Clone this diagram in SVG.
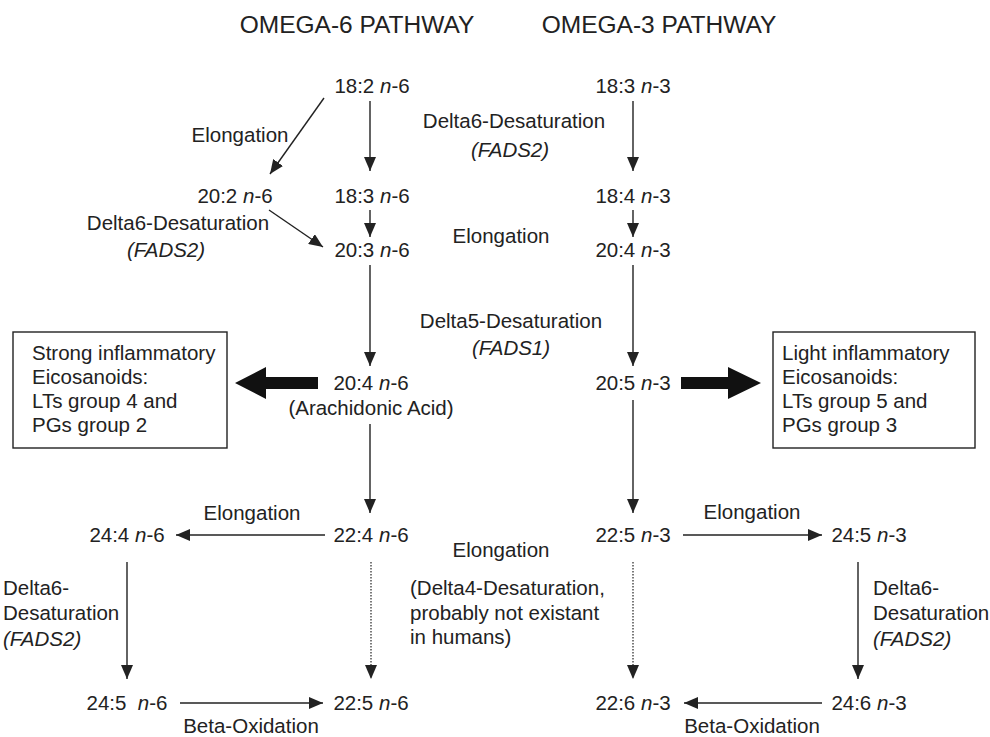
<svg xmlns="http://www.w3.org/2000/svg" width="990" height="737" viewBox="0 0 990 737">
<style>
  text { font-family: "Liberation Sans", Arial, sans-serif; font-size: 20.5px; fill: #222; }
  .title { font-size: 24.5px; }
  .c { text-anchor: middle; }
  .i { font-style: italic; }
  .ln { stroke: #222; stroke-width: 1.4; fill: none; }
  .dot { stroke: #222; stroke-width: 1.2; fill: none; stroke-dasharray: 1.5 1.5; }
  .box { fill: #fff; stroke: #222; stroke-width: 1.4; }
  .thick { fill: #111; }
</style>
<defs>
  <marker id="ah" viewBox="0 0 14 12" refX="14" refY="6" markerWidth="14" markerHeight="12" orient="auto" markerUnits="userSpaceOnUse">
    <path d="M0,0 L14,6 L0,12 z" fill="#222"/>
  </marker>
</defs>
<rect width="990" height="737" fill="#fff"/>

<g id="titles">
  <text class="title c" x="357" y="33">OMEGA-6 PATHWAY</text>
  <text class="title c" x="659" y="33">OMEGA-3 PATHWAY</text>
</g>

<g id="n_18_2_n6"><text class="c" x="372" y="93">18:2 <tspan class="i">n</tspan>-6</text></g>
<g id="n_18_3_n3"><text class="c" x="633" y="93">18:3 <tspan class="i">n</tspan>-3</text></g>
<g id="n_20_2_n6"><text class="c" x="235" y="203">20:2 <tspan class="i">n</tspan>-6</text></g>
<g id="n_18_3_n6"><text class="c" x="372" y="203">18:3 <tspan class="i">n</tspan>-6</text></g>
<g id="n_18_4_n3"><text class="c" x="633" y="203">18:4 <tspan class="i">n</tspan>-3</text></g>
<g id="n_20_3_n6"><text class="c" x="372" y="257">20:3 <tspan class="i">n</tspan>-6</text></g>
<g id="n_20_4_n3"><text class="c" x="633" y="257">20:4 <tspan class="i">n</tspan>-3</text></g>
<g id="n_20_4_n6">
  <text class="c" x="371" y="390">20:4 <tspan class="i">n</tspan>-6</text>
  <text class="c" x="371" y="415">(Arachidonic Acid)</text>
</g>
<g id="n_20_5_n3"><text class="c" x="633" y="390">20:5 <tspan class="i">n</tspan>-3</text></g>
<g id="n_24_4_n6"><text class="c" x="127" y="542">24:4 <tspan class="i">n</tspan>-6</text></g>
<g id="n_22_4_n6"><text class="c" x="371" y="542">22:4 <tspan class="i">n</tspan>-6</text></g>
<g id="n_22_5_n3"><text class="c" x="633" y="542">22:5 <tspan class="i">n</tspan>-3</text></g>
<g id="n_24_5_n3"><text class="c" x="869" y="542">24:5 <tspan class="i">n</tspan>-3</text></g>
<g id="n_24_5_n6"><text class="c" x="127" y="710" xml:space="preserve">24:5  <tspan class="i">n</tspan>-6</text></g>
<g id="n_22_5_n6"><text class="c" x="371" y="710">22:5 <tspan class="i">n</tspan>-6</text></g>
<g id="n_22_6_n3"><text class="c" x="633" y="710">22:6 <tspan class="i">n</tspan>-3</text></g>
<g id="n_24_6_n3"><text class="c" x="869" y="710">24:6 <tspan class="i">n</tspan>-3</text></g>

<g id="box_strong">
  <rect class="box" x="13" y="332" width="214" height="116"/>
  <text x="32" y="360">Strong inflammatory</text>
  <text x="32" y="384">Eicosanoids:</text>
  <text x="32" y="408">LTs group 4 and</text>
  <text x="32" y="432">PGs group 2</text>
</g>
<g id="box_light">
  <rect class="box" x="773" y="332" width="202" height="116"/>
  <text x="782" y="360">Light inflammatory</text>
  <text x="782" y="384">Eicosanoids:</text>
  <text x="782" y="408">LTs group 5 and</text>
  <text x="782" y="432">PGs group 3</text>
</g>

<g id="labels">
  <text class="c" x="240" y="142">Elongation</text>
  <text class="c" x="514" y="128">Delta6-Desaturation</text>
  <text class="c i" x="510" y="157">(FADS2)</text>
  <text class="c" x="178" y="230">Delta6-Desaturation</text>
  <text class="c i" x="166" y="257">(FADS2)</text>
  <text class="c" x="501" y="243">Elongation</text>
  <text class="c" x="511" y="328">Delta5-Desaturation</text>
  <text class="c i" x="511" y="355">(FADS1)</text>
  <text class="c" x="501" y="557">Elongation</text>
  <text class="c" x="252" y="520">Elongation</text>
  <text class="c" x="752" y="519">Elongation</text>
  <text x="3" y="595">Delta6-</text>
  <text x="3" y="620">Desaturation</text>
  <text class="i" x="3" y="646">(FADS2)</text>
  <text x="410" y="595">(Delta4-Desaturation,</text>
  <text x="410" y="620">probably not existant</text>
  <text x="410" y="644">in humans)</text>
  <text x="873" y="595">Delta6-</text>
  <text x="873" y="620">Desaturation</text>
  <text class="i" x="873" y="646">(FADS2)</text>
  <text class="c" x="251" y="733">Beta-Oxidation</text>
  <text class="c" x="752" y="733">Beta-Oxidation</text>
</g>

<g id="connectors">
  <line class="ln" x1="370" y1="101" x2="370" y2="171" marker-end="url(#ah)"/>
  <line class="ln" x1="633" y1="101" x2="633" y2="171" marker-end="url(#ah)"/>
  <line class="ln" x1="324" y1="98" x2="270" y2="174" marker-end="url(#ah)"/>
  <line class="ln" x1="370" y1="210" x2="370" y2="237" marker-end="url(#ah)"/>
  <line class="ln" x1="633" y1="210" x2="633" y2="237" marker-end="url(#ah)"/>
  <line class="ln" x1="269" y1="210" x2="323" y2="247" marker-end="url(#ah)"/>
  <line class="ln" x1="370" y1="265" x2="370" y2="366" marker-end="url(#ah)"/>
  <line class="ln" x1="633" y1="265" x2="633" y2="366" marker-end="url(#ah)"/>
  <line class="ln" x1="370" y1="424" x2="370" y2="513" marker-end="url(#ah)"/>
  <line class="ln" x1="633" y1="400" x2="633" y2="513" marker-end="url(#ah)"/>
  <line class="ln" x1="325" y1="535" x2="176" y2="535" marker-end="url(#ah)"/>
  <line class="ln" x1="683" y1="535" x2="822" y2="535" marker-end="url(#ah)"/>
  <line class="ln" x1="127" y1="562" x2="127" y2="679" marker-end="url(#ah)"/>
  <line class="dot" x1="371" y1="562" x2="371" y2="679" marker-end="url(#ah)"/>
  <line class="dot" x1="633" y1="562" x2="633" y2="679" marker-end="url(#ah)"/>
  <line class="ln" x1="858" y1="562" x2="858" y2="679" marker-end="url(#ah)"/>
  <line class="ln" x1="180" y1="703" x2="323" y2="703" marker-end="url(#ah)"/>
  <line class="ln" x1="822" y1="703" x2="684" y2="703" marker-end="url(#ah)"/>
  <path class="thick" d="M318,377 L266,377 L266,367 L235,383 L266,399 L266,389 L318,389 z"/>
  <path class="thick" d="M681,377 L728,377 L728,367 L761,383 L728,399 L728,389 L681,389 z"/>
</g>
</svg>
